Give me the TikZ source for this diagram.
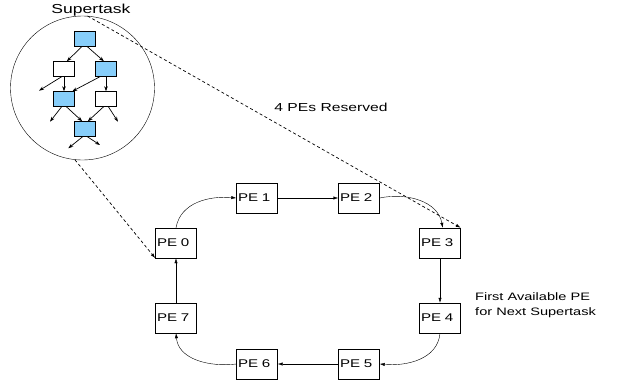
\documentclass[tikz,border=0pt]{standalone}
\usepackage{fontspec}
\newfontfamily\figfont[FakeStretch=1.35]{Liberation Sans}
\usetikzlibrary{arrows.meta,calc}
\definecolor{ltblue}{RGB}{135,206,250}
\tikzset{
	>={Latex[length=5pt,width=3.2pt]}, line width=0.8pt,
	pe/.style ={draw, rectangle, minimum width=41pt, minimum height=30pt, inner xsep=1.5pt, text width=38pt, align=left, font=\figfont\fontsize{11.2}{13}\selectfont}, % processing element
	tbox/.style ={draw, rectangle, minimum width=21pt, minimum height=15pt, inner sep=0pt, fill=white}, % task in the supertask
	bluetask/.style={tbox, fill=ltblue},
	lbl/.style = {inner sep=0pt, anchor=base, font=\figfont\fontsize{11.6}{14}\selectfont}
}
\begin{document}
\begin{tikzpicture}[x=1pt,y=-1pt,
        ring/.style={->},
        tedge/.style={-{Stealth[length=5pt,width=3.5pt]}, line width=0.7pt},
        reserve/.style={->, dash pattern=on 3pt off 2.5pt, line width=0.7pt}
        ]
            \useasboundingbox (0,0) rectangle (618,381);
            % supertask
            \node[draw, circle, minimum size=144pt, inner sep=0pt] (super) at (82.5,88) {};
            \node[lbl, font=\figfont\fontsize{13}{15}\selectfont] (supertitle) at (91,13.3) {Supertask};
            \node[bluetask] (t1) at (85,39) {};
            \node[tbox] (t2) at (64,69) {};
            \node[bluetask] (t3) at (106,69) {};
            \node[bluetask] (t4) at (64,99) {};
            \node[tbox] (t5) at (106,99) {};
            \node[bluetask] (t6) at (85,129) {};
            \coordinate (d1) at (39,90.7);
            \coordinate (d2) at (50,121.7);
            \coordinate (d3) at (118,121.7);
            \coordinate (d4) at (68.3,148.3);
            \coordinate (d5) at (100,145);
            \path[tedge]
                (t1.247) edge (t2.70)
                (t1.287) edge (t3.105)
                (t2.253) edge (d1)
                (t2.south) edge (t4.north)
                (t3.232) edge (t4.43)
                (t3.south) edge (t5.north)
                (t4.253) edge (d2)
                (t4.287) edge (t6.110)
                (t5.253) edge (t6.70)
                (t5.287) edge (d3)
                (t6.253) edge (d4)
                (t6.287) edge (d5);
            % ring of PEs
            \node[pe] (pe0) at (176,243) {PE 0};
            \node[pe] (pe1) at (257,198) {PE 1};
            \node[pe] (pe2) at (359,198) {PE 2};
            \node[pe] (pe3) at (440,243) {PE 3};
            \node[pe] (pe4) at (440,318) {PE 4};
            \node[pe] (pe5) at (359,364) {PE 5};
            \node[pe] (pe6) at (257,364) {PE 6};
            \node[pe] (pe7) at (176,318) {PE 7};
            \draw[ring] (pe0.north) to[out=80, in=175] (pe1.west);
            \draw[ring] (pe1) -- (pe2);
            \draw[ring] (pe2.east) to[out=12, in=100] (pe3.80);
            \draw[ring] (pe3) -- (pe4);
            \draw[ring] (pe4.south) to[out=-95, in=-5] (pe5.east);
            \draw[ring] (pe5) -- (pe6);
            \draw[ring] (pe6.west) to[out=187, in=-85] (pe7.south);
            \draw[ring] (pe7) -- (pe0);
            % reservation
            \draw[reserve] (super.86) -- (pe3.north east);
            \draw[reserve] (super.-96) -- (pe0.south west);
            \node[lbl] (reserved) at (331,111) {4 PEs Reserved};
            \node[lbl, anchor=base west, align=left, font=\figfont\fontsize{10.8}{14.5}\selectfont] (nextpe) at (475,315) {First Available PE\\for Next Supertask};
        \end{tikzpicture}
\end{document}
